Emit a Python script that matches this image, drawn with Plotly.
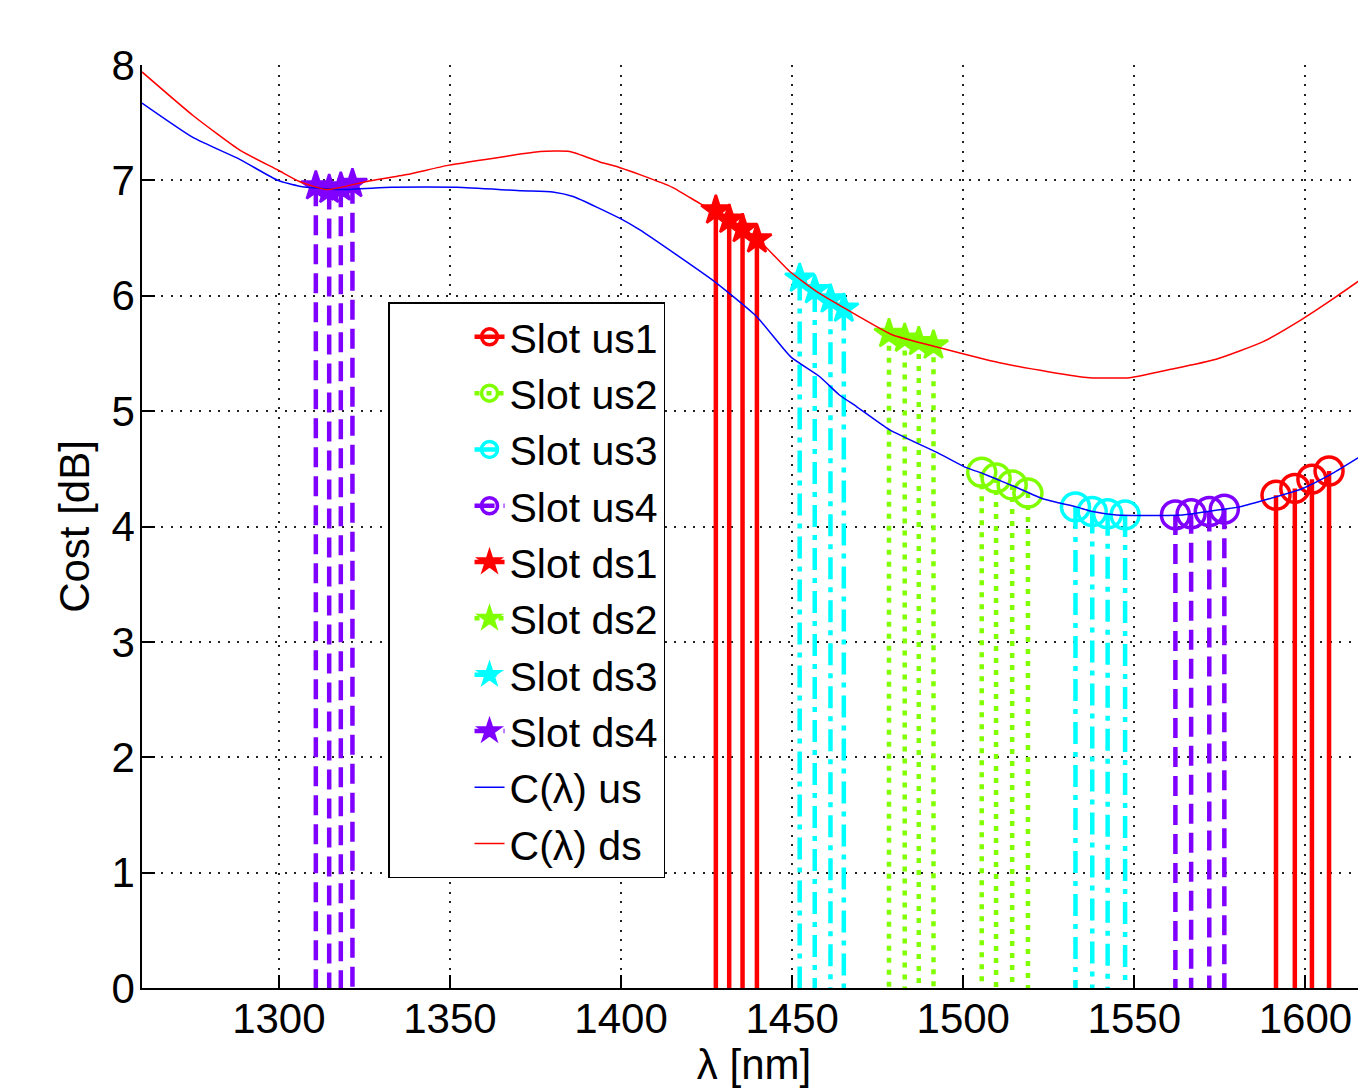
import plotly.graph_objects as go

# ---------------- data ----------------
lam_curve_us = [1260, 1275, 1288.7, 1299.7, 1306, 1318, 1333, 1352, 1371, 1380, 1386,
                1399.7, 1405.5, 1427.4, 1439.6, 1449.6, 1458, 1463.8, 1468.8, 1478.4, 1493.1,
                1500.9, 1505.7, 1510.6, 1515.5, 1523.2, 1533, 1537.8, 1544.7, 1564.1, 1573.9,
                1580.7, 1589.4, 1599.2, 1607.9, 1620]
cost_us = [7.67, 7.37, 7.18, 7.00, 6.95, 6.92, 6.94, 6.94, 6.91, 6.90, 6.86,
           6.67, 6.57, 6.12, 5.82, 5.47, 5.30, 5.14, 5.04, 4.84, 4.63,
           4.51, 4.46, 4.40, 4.34, 4.24, 4.17, 4.13, 4.10, 4.10, 4.14,
           4.17, 4.24, 4.33, 4.46, 4.68]

lam_curve_ds = [1260, 1275, 1288.7, 1299.7, 1306, 1314, 1325.7, 1337.4, 1349.4, 1366.6,
                1376.3, 1385, 1393.8, 1399.7, 1405.5, 1415, 1423, 1430.8, 1439.6, 1449.3,
                1458, 1467.8, 1479.4, 1493.1, 1510.6, 1525.2, 1536.9, 1548.6, 1560.3,
                1573.9, 1587.5, 1599.2, 1608.9, 1620]
cost_ds = [7.94, 7.56, 7.26, 7.09, 6.99, 6.92, 6.99, 7.05, 7.13, 7.21,
           7.25, 7.25, 7.16, 7.11, 7.05, 6.94, 6.80, 6.67, 6.50, 6.21,
           6.02, 5.85, 5.66, 5.55, 5.42, 5.34, 5.29, 5.29, 5.36,
           5.45, 5.60, 5.80, 5.99, 6.22]

slot_names = ["Slot us1", "Slot us2", "Slot us3", "Slot us4",
              "Slot ds1", "Slot ds2", "Slot ds3", "Slot ds4"]
slot_lambda = [
    [1591.4, 1596.9, 1601.9, 1606.9],
    [1505.4, 1509.6, 1514.3, 1518.9],
    [1532.8, 1537.7, 1542.2, 1547.3],
    [1562.0, 1566.6, 1571.9, 1576.3],
    [1427.7, 1431.6, 1435.5, 1439.7],
    [1478.3, 1482.9, 1487.0, 1491.3],
    [1452.2, 1456.6, 1461.2, 1465.1],
    [1310.8, 1314.7, 1318.1, 1321.5],
]
slot_cost = [
    [4.27, 4.33, 4.41, 4.48],
    [4.47, 4.42, 4.36, 4.29],
    [4.17, 4.13, 4.11, 4.10],
    [4.10, 4.11, 4.13, 4.15],
    [6.74, 6.66, 6.58, 6.49],
    [5.67, 5.63, 5.60, 5.57],
    [6.15, 6.05, 5.97, 5.89],
    [6.95, 6.92, 6.94, 6.97],
]

x_ticks = [1300, 1350, 1400, 1450, 1500, 1550, 1600]
y_ticks = [0, 1, 2, 3, 4, 5, 6, 7, 8]

# ---------------- styles ----------------
RED = "#ff0000"
GREEN = "#80ff00"
CYAN = "#00ffff"
PURPLE = "#8000ff"
CLEAR = "rgba(0,0,0,0)"
slot_colors = [RED, GREEN, CYAN, PURPLE, RED, GREEN, CYAN, PURPLE]
slot_dash = ["solid", "5px,7px", "22px,8px,5px,8px", "20px,9px"] * 2
slot_symbol = ["circle-open"] * 4 + ["star"] * 4
slot_msize = [28] * 4 + [22] * 4
slot_mlw = [3.5] * 4 + [2.5] * 4

FONT = "Liberation Sans, Arial, Helvetica, sans-serif"
FS = 42

fig = go.Figure()

for name, lams, costs, col, dash, sym, ms, mlw in zip(slot_names, slot_lambda, slot_cost,
                                                      slot_colors, slot_dash, slot_symbol,
                                                      slot_msize, slot_mlw):
    xs, ys, cols = [], [], []
    for lx, cy in zip(lams, costs):
        xs += [lx, lx, None]
        ys += [cy, 0, None]
        cols += [col, CLEAR, CLEAR]
    fig.add_trace(go.Scatter(
        x=xs, y=ys, name=name, mode="lines+markers",
        line=dict(color=col, width=4.5, dash=dash),
        marker=dict(symbol=sym, size=ms, color=cols, line=dict(width=mlw, color=cols)),
        connectgaps=False, hoverinfo="skip",
    ))

fig.add_trace(go.Scatter(x=lam_curve_us, y=cost_us, name="C(λ) us", mode="lines",
                         line=dict(color="#0000ff", width=1.5, shape="spline", smoothing=0.5)))
fig.add_trace(go.Scatter(x=lam_curve_ds, y=cost_ds, name="C(λ) ds", mode="lines",
                         line=dict(color="#ff0000", width=1.5, shape="spline", smoothing=0.5)))

axis_common = dict(
    showline=True, linecolor="black", linewidth=1.5,
    ticks="inside", ticklen=13, tickwidth=1.5, tickcolor="black",
    showgrid=True, gridcolor="#222222", gridwidth=1.5, griddash="2px,7.5px",
    zeroline=False, automargin=False,
    tickfont=dict(family=FONT, size=FS, color="black"),
)

fig.update_layout(
    width=1358, height=1080,
    margin=dict(l=134, r=0, t=57, b=100),
    paper_bgcolor="white", plot_bgcolor="white",
    font=dict(family=FONT, size=FS, color="black"),
    xaxis=dict(range=[1260, 1617.7], tickvals=x_ticks,
               title=dict(text="λ [nm]", font=dict(family=FONT, size=FS), standoff=12),
               ticklabelstandoff=-7,
               **axis_common),
    yaxis=dict(range=[0, 8], tickvals=y_ticks,
               title=dict(text="Cost [dB]", font=dict(family=FONT, size=FS), standoff=9),
               ticklabelstandoff=-3,
               **axis_common),
    legend=dict(x=0.201, y=0.743, xanchor="left", yanchor="top",
                bgcolor="white", bordercolor="black", borderwidth=1.5,
                font=dict(family=FONT, size=41, color="black"),
                indentation=80, tracegroupgap=0),
    showlegend=True,
)

fig.write_html("out.html")
